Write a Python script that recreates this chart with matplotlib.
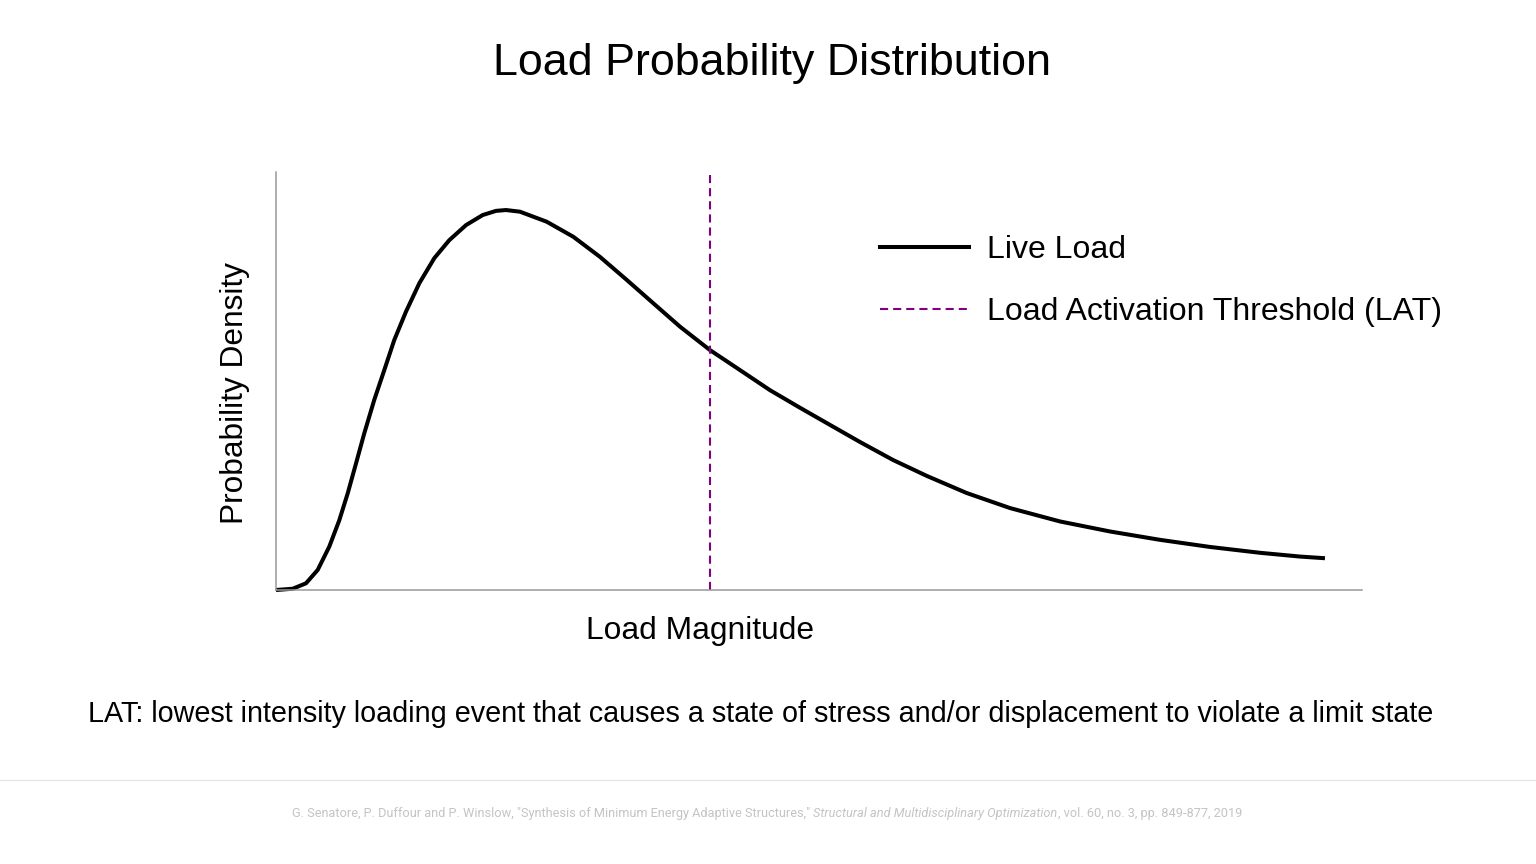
import numpy as np
import matplotlib.pyplot as plt
from matplotlib.lines import Line2D

# curve (arbitrary units, axis runs 0..10 x 0..1)
load_x = [0.0, 0.154, 0.276, 0.384, 0.491, 0.583, 0.660, 0.737, 0.813, 0.905,
          0.997, 1.089, 1.197, 1.320, 1.458, 1.596, 1.750, 1.903, 2.026, 2.118,
          2.247, 2.493, 2.738, 2.983, 3.229, 3.474, 3.720, 3.996, 4.273, 4.549,
          4.825, 5.101, 5.378, 5.682, 5.992, 6.360, 6.759, 7.219, 7.680, 8.140,
          8.600, 9.061, 9.429, 9.659]
density = [0.0, 0.003, 0.016, 0.048, 0.104, 0.167, 0.231, 0.303, 0.375, 0.455,
           0.526, 0.598, 0.666, 0.734, 0.794, 0.837, 0.873, 0.897, 0.907, 0.909,
           0.905, 0.881, 0.845, 0.797, 0.742, 0.686, 0.630, 0.574, 0.526, 0.478,
           0.436, 0.395, 0.354, 0.311, 0.273, 0.232, 0.196, 0.164, 0.140, 0.120,
           0.103, 0.089, 0.080, 0.076]
lat_x = 4.0

title = "Load Probability Distribution"
legend_labels = ["Live Load", "Load Activation Threshold (LAT)"]
note = "LAT: lowest intensity loading event that causes a state of stress and/or displacement to violate a limit state"
ref_parts = [('G. Senatore, P. Duffour and P. Winslow, "Synthesis of Minimum Energy Adaptive Structures," ', 'normal'),
             ('Structural and Multidisciplinary Optimization', 'italic'),
             (', vol. 60, no. 3, pp. 849-877, 2019', 'normal')]

purple = '#800080'
plt.rcParams['font.family'] = ['Liberation Sans', 'DejaVu Sans']

fig = plt.figure(figsize=(15.36, 8.64), dpi=100)
ax = fig.add_axes([276 / 1536, 1 - 590 / 864, (1362 - 276) / 1536, (590 - 172) / 864])
ax.set_xlim(0, 10)
ax.set_ylim(0, 1)

ax.plot(load_x, density, color='black', lw=2.9, solid_joinstyle='round',
        solid_capstyle='butt', clip_on=False)
ax.axvline(lat_x, ymin=0, ymax=0.993, color=purple, lw=1.5, dashes=(3.9, 2.4))

for s in ['top', 'right']:
    ax.spines[s].set_visible(False)
for s in ['left', 'bottom']:
    ax.spines[s].set_color('#999999')
    ax.spines[s].set_linewidth(1.1)
ax.set_xticks([])
ax.set_yticks([])

handles = [Line2D([], [], color='black', lw=2.9),
           Line2D([], [], color=purple, lw=1.5, dashes=(3.9, 2.4))]
ax.legend(handles, legend_labels, loc='upper left', bbox_to_anchor=(880 / 1536, 1 - 235 / 864),
          bbox_transform=fig.transFigure, frameon=False, fontsize=23,
          handlelength=2.8, handletextpad=0.56, labelspacing=1.0, borderpad=0, borderaxespad=0)

fig.text(772 / 1536, 1 - 64 / 864, title, ha='center', va='center', fontsize=32.3)
fig.text(700 / 1536, 1 - 631 / 864, "Load Magnitude", ha='center', va='center', fontsize=22.9)
fig.text(235 / 1536, 1 - 393 / 864, "Probability Density", ha='center', va='center',
         rotation=90, fontsize=22.8)
fig.text(761 / 1536, 1 - 714 / 864, note, ha='center', va='center', fontsize=20.7)

# thin separator above the reference
fig.add_artist(Line2D([0, 1], [1 - 780 / 864, 1 - 780 / 864], transform=fig.transFigure,
                      color='#e6e6e6', lw=1))

# reference line with italic journal name, pieces placed one after another
renderer = fig.canvas.get_renderer()
pieces = []
for txt, style in ref_parts:
    t = fig.text(0, 1 - 813 / 864, txt, ha='left', va='center', fontsize=10,
                 style=style, color='#c4c4c4', family=['Roboto', 'DejaVu Sans'])
    pieces.append(t)
total = sum(t.get_window_extent(renderer).width for t in pieces)
size = 10 * 952 / total
for t in pieces:
    t.set_fontsize(size)
x0 = 768 - 952 / 2
for t in pieces:
    t.set_x(x0 / 1536)
    x0 += t.get_window_extent(renderer).width

fig.savefig('out.png', dpi=100)
